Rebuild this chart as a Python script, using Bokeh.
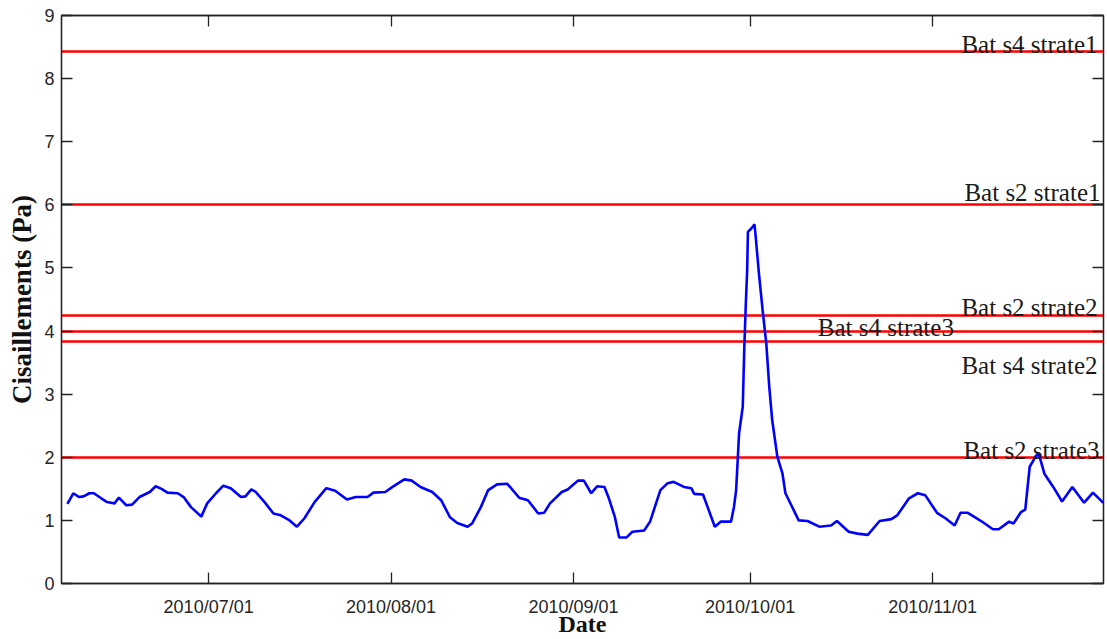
import pandas as pd
from bokeh.plotting import figure
from bokeh.models import Range1d, FixedTicker, DatetimeTickFormatter, LinearAxis, DatetimeAxis, ColumnDataSource
from bokeh.core.properties import value
from bokeh.embed import file_html
from bokeh.resources import INLINE

# ---------------- data ----------------
dates = [
    "2010-06-07 00:00", "2010-06-08 00:00", "2010-06-09 00:00", "2010-06-09 18:00", "2010-06-10 18:00",
    "2010-06-11 12:00", "2010-06-12 18:00", "2010-06-13 18:00", "2010-06-15 00:00", "2010-06-15 18:00",
    "2010-06-17 00:00", "2010-06-18 00:00", "2010-06-19 06:00", "2010-06-21 00:00", "2010-06-22 00:00",
    "2010-06-23 00:00", "2010-06-24 00:00", "2010-06-25 18:00", "2010-06-26 18:00", "2010-06-28 00:00",
    "2010-06-29 18:00", "2010-06-30 18:00", "2010-07-02 06:00", "2010-07-03 12:00", "2010-07-04 18:00",
    "2010-07-06 12:00", "2010-07-07 06:00", "2010-07-08 06:00", "2010-07-09 00:00", "2010-07-10 12:00",
    "2010-07-12 00:00", "2010-07-13 06:00", "2010-07-14 18:00", "2010-07-16 00:00", "2010-07-17 06:00",
    "2010-07-19 00:00", "2010-07-21 00:00", "2010-07-22 12:00", "2010-07-24 12:00", "2010-07-26 00:00",
    "2010-07-28 00:00", "2010-07-29 00:00", "2010-07-31 00:00", "2010-08-01 06:00", "2010-08-03 06:00",
    "2010-08-04 12:00", "2010-08-06 00:00", "2010-08-08 00:00", "2010-08-09 12:00", "2010-08-11 00:00",
    "2010-08-12 06:00", "2010-08-14 00:00", "2010-08-14 18:00", "2010-08-16 06:00", "2010-08-17 12:00",
    "2010-08-19 00:00", "2010-08-20 18:00", "2010-08-22 18:00", "2010-08-24 06:00", "2010-08-26 00:00",
    "2010-08-27 00:00", "2010-08-28 00:00", "2010-08-30 00:00", "2010-08-31 00:00", "2010-09-01 18:00",
    "2010-09-02 18:00", "2010-09-04 00:00", "2010-09-05 00:00", "2010-09-06 06:00", "2010-09-07 00:00",
    "2010-09-08 00:00", "2010-09-08 18:00", "2010-09-10 00:00", "2010-09-11 00:00", "2010-09-13 00:00",
    "2010-09-14 00:00", "2010-09-15 18:00", "2010-09-17 00:00", "2010-09-18 00:00", "2010-09-19 18:00",
    "2010-09-21 00:00", "2010-09-21 12:00", "2010-09-23 00:00", "2010-09-25 00:00", "2010-09-26 00:00",
    "2010-09-27 18:00", "2010-09-28 06:00", "2010-09-28 15:00", "2010-09-29 03:00", "2010-09-29 18:00",
    "2010-09-30 00:00", "2010-09-30 06:00", "2010-09-30 12:00", "2010-09-30 15:00", "2010-10-01 06:00",
    "2010-10-01 18:00", "2010-10-02 00:00", "2010-10-02 12:00", "2010-10-03 03:00", "2010-10-03 18:00",
    "2010-10-04 06:00", "2010-10-04 18:00", "2010-10-05 15:00", "2010-10-06 12:00", "2010-10-07 00:00",
    "2010-10-08 00:00", "2010-10-09 06:00", "2010-10-10 18:00", "2010-10-12 18:00", "2010-10-14 18:00",
    "2010-10-15 18:00", "2010-10-17 18:00", "2010-10-19 06:00", "2010-10-21 00:00", "2010-10-23 00:00",
    "2010-10-25 00:00", "2010-10-26 00:00", "2010-10-28 00:00", "2010-10-29 12:00", "2010-10-30 18:00",
    "2010-11-01 18:00", "2010-11-03 06:00", "2010-11-04 18:00", "2010-11-05 18:00", "2010-11-07 00:00",
    "2010-11-09 06:00", "2010-11-11 06:00", "2010-11-12 06:00", "2010-11-14 00:00", "2010-11-14 18:00",
    "2010-11-16 00:00", "2010-11-16 18:00", "2010-11-17 12:00", "2010-11-18 12:00", "2010-11-19 00:00",
    "2010-11-20 00:00", "2010-11-21 12:00", "2010-11-23 00:00", "2010-11-24 18:00", "2010-11-26 18:00",
    "2010-11-28 06:00", "2010-11-30 00:00",
]
shear = [
    1.26, 1.43, 1.37, 1.38, 1.43,
    1.43, 1.35, 1.29, 1.27, 1.36,
    1.24, 1.25, 1.37, 1.45, 1.54,
    1.50, 1.44, 1.43, 1.37, 1.21,
    1.06, 1.27, 1.43, 1.55, 1.51,
    1.37, 1.38, 1.49, 1.45, 1.29,
    1.11, 1.08, 1.00, 0.90, 1.03,
    1.29, 1.51, 1.47, 1.33, 1.37,
    1.37, 1.44, 1.45, 1.53, 1.65,
    1.63, 1.53, 1.45, 1.32, 1.05,
    0.96, 0.90, 0.95, 1.21, 1.48,
    1.57, 1.58, 1.36, 1.32, 1.11,
    1.12, 1.27, 1.45, 1.49, 1.63,
    1.63, 1.43, 1.54, 1.53, 1.35,
    1.06, 0.73, 0.73, 0.82, 0.84,
    0.98, 1.48, 1.59, 1.61, 1.53,
    1.51, 1.42, 1.41, 0.90, 0.98,
    0.98, 1.21, 1.48, 2.38, 2.80,
    3.70, 4.38, 4.97, 5.57, 5.63,
    5.69, 5.44, 4.91, 4.33, 3.80,
    3.12, 2.59, 2.01, 1.74, 1.43,
    1.24, 1.00, 0.99, 0.90, 0.92,
    0.99, 0.82, 0.79, 0.77, 0.99,
    1.02, 1.08, 1.35, 1.43, 1.40,
    1.12, 1.03, 0.92, 1.12, 1.12,
    0.99, 0.86, 0.86, 0.98, 0.95,
    1.13, 1.17, 1.85, 2.01, 2.07,
    1.74, 1.53, 1.30, 1.53, 1.28,
    1.44, 1.28,
]
threshold_names = ["Bat s4 strate1", "Bat s2 strate1", "Bat s2 strate2",
                   "Bat s4 strate3", "Bat s4 strate2", "Bat s2 strate3"]
threshold_values = [8.43, 6.0, 4.25, 4.0, 3.83, 2.0]
x_tick_labels = ["2010/07/01", "2010/08/01", "2010/09/01", "2010/10/01", "2010/11/01"]
y_ticks = [0, 1, 2, 3, 4, 5, 6, 7, 8, 9]

# ---------------- figure ----------------
x_start = pd.Timestamp("2010-06-06 00:00")
x_end = pd.Timestamp("2010-11-30 01:00")

p = figure(width=1106, height=639, x_axis_type="datetime",
           x_range=Range1d(x_start, x_end), y_range=Range1d(0, 9),
           output_backend="svg", toolbar_location=None,
           min_border_left=61, min_border_right=3, min_border_top=15, min_border_bottom=56)
p.background_fill_color = "white"
p.border_fill_color = "white"
p.outline_line_color = "#222222"
p.outline_line_width = 1.3
p.xgrid.visible = False
p.ygrid.visible = False

x_tick_ms = [pd.Timestamp(pd.to_datetime(t, format="%Y/%m/%d")).timestamp() * 1000 for t in x_tick_labels]
fmt = "%Y/%m/%d"
dt_fmt = DatetimeTickFormatter(milliseconds=fmt, seconds=fmt, minsec=fmt, minutes=fmt, hourmin=fmt,
                               hours=fmt, days=fmt, months=fmt, years=fmt)

AX = "#222222"
TICK_FONT = "Liberation Sans"
SERIF = "Liberation Serif"

def style_axis(ax, labels=True):
    ax.axis_line_color = AX
    ax.axis_line_width = 1.3
    ax.major_tick_line_color = AX
    ax.major_tick_line_width = 1.3
    ax.major_tick_in = 11
    ax.major_tick_out = 0
    ax.minor_tick_line_color = None
    if labels:
        ax.major_label_text_font = TICK_FONT
        ax.major_label_text_font_size = "18px"
        ax.major_label_text_color = "#262626"
    else:
        ax.major_label_text_font_size = "0px"
        ax.major_label_text_color = None
        ax.major_label_standoff = 0

xax = p.xaxis[0]
xax.ticker = FixedTicker(ticks=x_tick_ms)
xax.formatter = dt_fmt
style_axis(xax)
xax.major_label_standoff = 13
xax.axis_label = "Date"
xax.axis_label_text_font = SERIF
xax.axis_label_text_font_style = "bold"
xax.axis_label_text_font_size = "24px"
xax.axis_label_text_color = "#111111"
xax.axis_label_standoff = -9

yax = p.yaxis[0]
yax.ticker = FixedTicker(ticks=y_ticks)
style_axis(yax)
yax.major_label_standoff = 7
yax.axis_label = "Cisaillements (Pa)"
yax.axis_label_text_font = SERIF
yax.axis_label_text_font_style = "bold"
yax.axis_label_text_font_size = "27px"
yax.axis_label_text_color = "#111111"
yax.axis_label_standoff = 4

top = DatetimeAxis(ticker=FixedTicker(ticks=x_tick_ms), formatter=dt_fmt)
style_axis(top, labels=False)
p.add_layout(top, "above")
right = LinearAxis(ticker=FixedTicker(ticks=y_ticks))
style_axis(right, labels=False)
p.add_layout(right, "right")

# threshold lines
p.hspan(y=threshold_values, line_color="#FF0000", line_width=2.5)

# series
src = ColumnDataSource(dict(x=pd.to_datetime(dates), y=shear))
p.line("x", "y", source=src, line_color="#0000FF", line_width=2.6)

# threshold labels
label_layout = {
    "Bat s4 strate1": dict(x=x_end, align="right", dx=-6, dy=-7),
    "Bat s2 strate1": dict(x=x_end, align="right", dx=-3, dy=-12),
    "Bat s2 strate2": dict(x=x_end, align="right", dx=-6, dy=-8),
    "Bat s4 strate3": dict(x=pd.Timestamp("2010-10-12 12:00"), align="left", dx=0, dy=-4),
    "Bat s4 strate2": dict(x=x_end, align="right", dx=-6, dy=24),
    "Bat s2 strate3": dict(x=x_end, align="right", dx=-4, dy=-7),
}
for name, val in zip(threshold_names, threshold_values):
    lay = label_layout[name]
    p.text(x=[lay["x"]], y=[val], text=[name], text_align=lay["align"], text_baseline="alphabetic",
           x_offset=lay["dx"], y_offset=lay["dy"],
           text_font=value(SERIF), text_font_size="25px", text_color="#1a1a1a")

open("out.html", "w").write(file_html(p, INLINE))
